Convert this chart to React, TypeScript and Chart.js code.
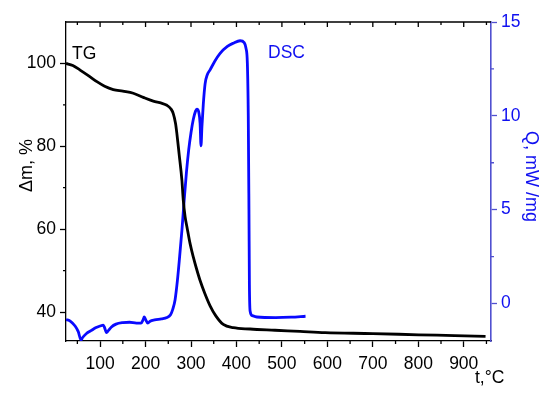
import { useEffect, useRef } from 'react';
import { Chart, registerables } from 'chart.js';

Chart.register(...registerables);

// TG curve: temperature (°C) and mass (%)
const tgTemp = [25, 40, 56, 75, 93, 110, 129, 150, 173, 195, 217, 235, 247, 256, 261, 266, 269, 274, 280, 283, 287, 291, 298, 305, 312, 320, 330, 342, 355, 371, 393, 430, 485, 540, 595, 700, 801, 880, 948];
const tgMass = [100, 99.5, 98.4, 97, 95.6, 94.5, 93.7, 93.3, 92.8, 91.8, 90.9, 90.4, 89.9, 89, 87.9, 85.5, 83, 78, 71.8, 67, 63, 60.6, 56.5, 53.3, 50.5, 47.6, 44.6, 41.5, 39.0, 37.0, 36.2, 35.9, 35.6, 35.3, 35.0, 34.8, 34.5, 34.3, 34.1];

// DSC curve: temperature (°C) and heat flow (mW/mg)
const dscTemp = [25, 35, 45, 52, 58, 62, 70, 80, 90, 100, 107, 110, 114, 118, 125, 135, 150, 165, 180, 190, 195, 197, 200, 205, 210, 220, 235, 247, 255, 260, 265, 270, 275, 280, 285, 290, 295, 300, 305, 310, 313, 317, 320, 322, 324, 327, 331, 336, 342, 352, 364, 380, 393, 408, 417, 421, 424, 426, 427.5, 428.5, 430, 435, 445, 486, 520, 552];
const dscQ = [-0.85, -0.95, -1.2, -1.5, -1.95, -1.8, -1.6, -1.45, -1.3, -1.2, -1.15, -1.3, -1.55, -1.45, -1.25, -1.1, -1.02, -1.0, -1.05, -1.05, -0.85, -0.72, -0.85, -1.05, -0.95, -0.88, -0.82, -0.75, -0.6, -0.3, 0.2, 1.2, 2.5, 3.9, 5.5, 7.0, 8.2, 9.1, 9.8, 10.25, 10.35, 10.2, 9.6, 8.4, 9.4, 10.6, 11.7, 12.2, 12.45, 12.9, 13.33, 13.7, 13.87, 14.0, 13.9, 13.6, 12.8, 10, 5, 1, -0.4, -0.65, -0.72, -0.75, -0.73, -0.68];

// Axis ticks
const xTicks = [100, 200, 300, 400, 500, 600, 700, 800, 900];
const xMinor = [50, 150, 250, 350, 450, 550, 650, 750, 850, 950];
const yTicks = [40, 60, 80, 100];
const yMinor = [50, 70, 90];
const y1Ticks = [0, 5, 10, 15];
const y1Minor = [2.5, 7.5, 12.5];

const FONT = 'Liberation Sans, Arial, sans-serif';
const FS = 17.5;
const AXIS_BLUE = '#5050d0';
const TEXT_BLUE = '#1010f0';

const decor = {
  id: 'decor',
  afterDraw(chart: any) {
    const { ctx, chartArea: a, scales } = chart;
    const x = scales.x, y = scales.y, y1 = scales.y1;
    ctx.save();
    ctx.lineWidth = 1.3;
    ctx.strokeStyle = '#000';
    ctx.beginPath();
    ctx.moveTo(a.left, a.top);
    ctx.lineTo(a.right, a.top);
    for (const v of xTicks) {
      const px = x.getPixelForValue(v);
      ctx.moveTo(px, a.top);
      ctx.lineTo(px, a.top + 5);
    }
    for (const v of xMinor) {
      const px = x.getPixelForValue(v);
      if (px > a.right) continue;
      ctx.moveTo(px, a.top);
      ctx.lineTo(px, a.top + 3);
      ctx.moveTo(px, a.bottom);
      ctx.lineTo(px, a.bottom + 3);
    }
    for (const v of yMinor) {
      const py = y.getPixelForValue(v);
      ctx.moveTo(a.left, py);
      ctx.lineTo(a.left - 3, py);
    }
    ctx.stroke();
    ctx.strokeStyle = AXIS_BLUE;
    ctx.beginPath();
    for (const v of y1Minor) {
      const py = y1.getPixelForValue(v);
      ctx.moveTo(a.right, py);
      ctx.lineTo(a.right + 3, py);
    }
    ctx.stroke();

    ctx.font = `${FS}px ${FONT}`;
    ctx.textBaseline = 'alphabetic';
    ctx.textAlign = 'left';
    ctx.fillStyle = '#000';
    ctx.fillText('TG', 72, 59);
    ctx.fillText('t,°C', 475, 383);
    ctx.fillStyle = TEXT_BLUE;
    ctx.fillText('DSC', 268, 58);

    ctx.font = `18px ${FONT}`;
    ctx.textAlign = 'center';
    ctx.fillStyle = '#000';
    ctx.save();
    ctx.translate(32, 165.5);
    ctx.rotate(-Math.PI / 2);
    ctx.fillText('Δm, %', 0, 0);
    ctx.restore();
    ctx.fillStyle = TEXT_BLUE;
    ctx.save();
    ctx.translate(526, 176.5);
    ctx.rotate(Math.PI / 2);
    ctx.fillText('Q, mW /mg', 0, 0);
    ctx.restore();
    ctx.restore();
  },
};

export default function App() {
  const ref = useRef<HTMLCanvasElement>(null);
  useEffect(() => {
    const tickFont = { family: FONT, size: FS };
    const chart = new Chart(ref.current!, {
      type: 'line',
      data: {
        datasets: [
          {
            label: 'TG',
            data: tgTemp.map((t, i) => ({ x: t, y: tgMass[i] })),
            borderColor: '#000',
            borderWidth: 2.8,
            pointRadius: 0,
            cubicInterpolationMode: 'monotone',
            yAxisID: 'y',
          },
          {
            label: 'DSC',
            data: dscTemp.map((t, i) => ({ x: t, y: dscQ[i] })),
            borderColor: '#0a0aff',
            borderWidth: 2.8,
            pointRadius: 0,
            cubicInterpolationMode: 'monotone',
            yAxisID: 'y1',
          },
        ],
      },
      options: {
        responsive: false,
        animation: false,
        devicePixelRatio: 1,
        layout: { padding: { top: 22, left: 0, right: 0, bottom: 0 } },
        plugins: { legend: { display: false }, tooltip: { enabled: false } },
        scales: {
          x: {
            type: 'linear',
            position: 'bottom',
            min: 25,
            max: 960,
            afterBuildTicks: (s: any) => { s.ticks = xTicks.map((v) => ({ value: v })); },
            afterFit: (s: any) => { s.height = 58; },
            grid: { display: true, drawOnChartArea: false, drawTicks: true, tickLength: 6, tickColor: '#000', tickWidth: 1.3 },
            border: { display: true, color: '#000', width: 1.3 },
            ticks: { color: '#000', font: tickFont, padding: 7, maxRotation: 0, autoSkip: false },
          },
          y: {
            type: 'linear',
            position: 'left',
            min: 33,
            max: 110,
            afterBuildTicks: (s: any) => { s.ticks = yTicks.map((v) => ({ value: v })); },
            afterFit: (s: any) => { s.width = 66; },
            grid: { display: true, drawOnChartArea: false, drawTicks: true, tickLength: 6, tickColor: '#000', tickWidth: 1.3 },
            border: { display: true, color: '#000', width: 1.3 },
            ticks: { color: '#000', font: tickFont, padding: 4, autoSkip: false },
          },
          y1: {
            type: 'linear',
            position: 'right',
            min: -2,
            max: 15,
            afterBuildTicks: (s: any) => { s.ticks = y1Ticks.map((v) => ({ value: v })); },
            afterFit: (s: any) => { s.width = 59; },
            grid: { display: true, drawOnChartArea: false, drawTicks: true, tickLength: 6, tickColor: AXIS_BLUE, tickWidth: 1.3 },
            border: { display: true, color: AXIS_BLUE, width: 1.6 },
            ticks: { color: TEXT_BLUE, font: tickFont, padding: 4, autoSkip: false },
          },
        },
      },
      plugins: [decor],
    } as any);
    return () => chart.destroy();
  }, []);
  return (
    <div style={{ position: 'fixed', left: 0, top: 0, width: 550, height: 399, background: '#fff' }}>
      <canvas ref={ref} width={550} height={399} style={{ width: 550, height: 399, display: 'block' }} />
    </div>
  );
}
